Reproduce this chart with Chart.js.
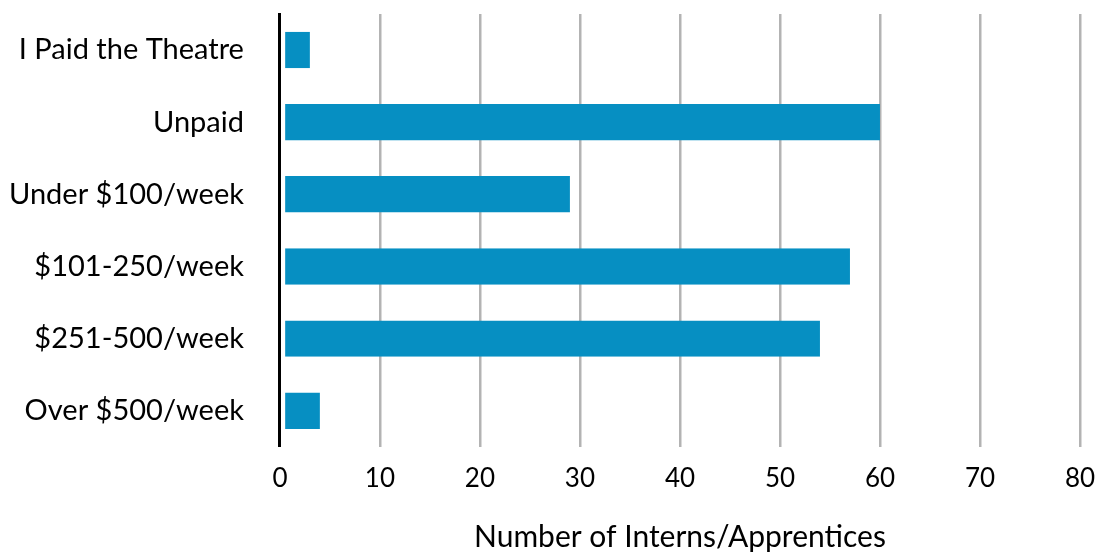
<!DOCTYPE html>
<html>
<head>
<meta charset="utf-8">
<script src="https://cdn.jsdelivr.net/npm/chart.js@4"></script>
<style>
  html, body { margin: 0; padding: 0; background: #fff; }
  #wrap { width: 1097px; height: 552px; position: relative; }
</style>
</head>
<body>
<div id="wrap"><canvas id="bar-chart"></canvas></div>
<script>
// categories, top to bottom
const categories = ['I Paid the Theatre', 'Unpaid', 'Under $100/week', '$101-250/week', '$251-500/week', 'Over $500/week'];
// number of interns / apprentices
const interns = [3, 60, 29, 57, 54, 4];
const xTicks = [0, 10, 20, 30, 40, 50, 60, 70, 80];

const family = 'Lato, "Open Sans", sans-serif';
const xPad = 16;
const yPad = 36;

const ctx = document.getElementById('bar-chart').getContext('2d');
new Chart(ctx, {
  type: 'bar',
  data: {
    labels: categories,
    datasets: [
      {
        label: 'Number of Interns/Apprentices',
        data: interns,
        backgroundColor: '#068FC2',
        borderColor: '#ffffff',
        borderWidth: { left: 4, right: 0, top: 0, bottom: 0 },
        borderSkipped: false,
        barPercentage: 0.505,
        categoryPercentage: 1
      }
    ]
  },
  options: {
    indexAxis: 'y',
    responsive: true,
    maintainAspectRatio: false,
    animation: false,
    layout: { padding: { top: 14, right: 17, bottom: 0, left: 9 } },
    plugins: {
      legend: { display: false },
      tooltip: { enabled: false }
    },
    scales: {
      x: {
        min: xTicks[0],
        max: xTicks[xTicks.length - 1],
        afterBuildTicks: (axis) => { axis.ticks = xTicks.map(v => ({ value: v })); },
        // chart.js counts tick padding twice and also pads the plot edges with it
        afterFit: (scale) => {
          scale.height -= xPad;
          scale.paddingLeft = 0;
          scale.paddingRight = 0;
        },
        grid: {
          color: (c) => c.tick && c.tick.value === 0 ? 'rgba(0,0,0,0)' : '#B3B3B3',
          lineWidth: 2.5,
          drawTicks: false
        },
        border: { display: false },
        ticks: { color: '#000', font: { family: family, size: 26 }, padding: xPad, maxRotation: 0 },
        title: {
          display: true,
          text: 'Number of Interns/Apprentices',
          color: '#000',
          font: { family: family, size: 30, lineHeight: 1 },
          padding: { top: 28, bottom: 0 }
        }
      },
      y: {
        z: 1,
        afterFit: (scale) => {
          scale.width -= yPad;
          scale.paddingTop = 0;
          scale.paddingBottom = 0;
        },
        grid: { display: false, drawTicks: false },
        border: { display: true, color: '#000', width: 3 },
        ticks: { color: '#000', font: { family: family, size: 29 }, padding: yPad }
      }
    }
  }
});
</script>
</body>
</html>
